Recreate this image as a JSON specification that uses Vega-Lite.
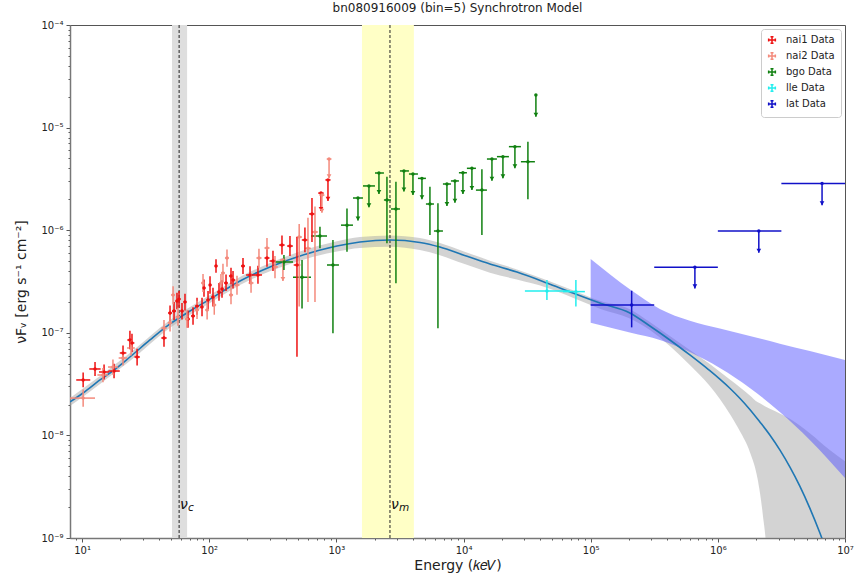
{
  "$schema": "https://vega.github.io/schema/vega-lite/v6.json",
  "width": 775,
  "height": 513,
  "autosize": {"type": "none"},
  "padding": {"left": 70, "top": 25, "right": 9, "bottom": 38},
  "background": "white",
  "title": {"text": "bn080916009 (bin=5) Synchrotron Model", "fontSize": 12, "font": "DejaVu Sans", "fontWeight": "normal", "offset": 5, "color": "#222"},
  "config": {"view": {"stroke": "#555", "strokeWidth": 1}, "font": "DejaVu Sans"},
  "datasets": {
    "spans": [
      {"which": "c", "e1": 51, "e2": 67},
      {"which": "m", "e1": 1590, "e2": 4070}
    ],
    "lines": [{"e": 58}, {"e": 2640}],
    "labels": [
      {"sym": "ν", "sub": "c", "e": 58, "f": 2.1e-9},
      {"sym": "ν", "sub": "m", "e": 2640, "f": 2.1e-9}
    ],
    "model": [
      {"e": 8.05, "f": 2.12e-8}, {"e": 10.18, "f": 2.59e-8}, {"e": 13.85, "f": 3.47e-8}, {"e": 17.85, "f": 4.34e-8},
      {"e": 23.8, "f": 5.81e-8}, {"e": 34.2, "f": 8.51e-8}, {"e": 49.2, "f": 1.22e-7}, {"e": 70.6, "f": 1.63e-7},
      {"e": 101.5, "f": 2.13e-7}, {"e": 174.6, "f": 3.2e-7}, {"e": 300.6, "f": 4.38e-7}, {"e": 517.4, "f": 5.6e-7},
      {"e": 1011, "f": 7.01e-7}, {"e": 1533, "f": 7.67e-7}, {"e": 2639, "f": 8.03e-7}, {"e": 4542, "f": 7.6e-7},
      {"e": 6525, "f": 6.85e-7}, {"e": 10070, "f": 5.7e-7}, {"e": 16130, "f": 4.68e-7}, {"e": 26290, "f": 3.91e-7},
      {"e": 45270, "f": 3.06e-7}, {"e": 72460, "f": 2.44e-7}, {"e": 118100, "f": 1.95e-7}, {"e": 203300, "f": 1.56e-7},
      {"e": 292100, "f": 1.165e-7}, {"e": 419500, "f": 8.51e-8}, {"e": 602500, "f": 6.08e-8}, {"e": 722000, "f": 5.11e-8},
      {"e": 865200, "f": 4.27e-8}, {"e": 1037000, "f": 3.53e-8}, {"e": 1243000, "f": 2.88e-8}, {"e": 1489000, "f": 2.3e-8},
      {"e": 1785000, "f": 1.79e-8}, {"e": 2139000, "f": 1.354e-8}, {"e": 2564000, "f": 1.009e-8}, {"e": 3072000, "f": 7.22e-9},
      {"e": 3681000, "f": 4.93e-9}, {"e": 4413000, "f": 3.2e-9}, {"e": 5288000, "f": 1.956e-9}, {"e": 6338000, "f": 1.126e-9},
      {"e": 7596000, "f": 6.09e-10}
    ],
    "band": [
      {"e": 8.05, "lo": 1.93e-8, "hi": 2.32e-8}, {"e": 13.85, "lo": 3.17e-8, "hi": 3.8e-8}, {"e": 23.8, "lo": 5.3e-8, "hi": 6.35e-8},
      {"e": 49.2, "lo": 1.12e-7, "hi": 1.33e-7}, {"e": 101.5, "lo": 1.95e-7, "hi": 2.33e-7}, {"e": 174.6, "lo": 2.92e-7, "hi": 3.5e-7},
      {"e": 300.6, "lo": 3.98e-7, "hi": 4.8e-7}, {"e": 517, "lo": 5.05e-7, "hi": 6.2e-7}, {"e": 1011, "lo": 6.2e-7, "hi": 7.8e-7},
      {"e": 1533, "lo": 6.7e-7, "hi": 8.6e-7}, {"e": 2639, "lo": 6.9e-7, "hi": 8.9e-7}, {"e": 4542, "lo": 6.4e-7, "hi": 8.4e-7},
      {"e": 6525, "lo": 5.7e-7, "hi": 7.5e-7}, {"e": 10070, "lo": 4.7e-7, "hi": 6.2e-7}, {"e": 16130, "lo": 3.85e-7, "hi": 5.05e-7},
      {"e": 26290, "lo": 3.3e-7, "hi": 4.15e-7}, {"e": 45270, "lo": 2.75e-7, "hi": 3.25e-7}, {"e": 72460, "lo": 2.2e-7, "hi": 2.6e-7},
      {"e": 118100, "lo": 1.72e-7, "hi": 2.05e-7}, {"e": 203300, "lo": 1.38e-7, "hi": 1.7e-7}, {"e": 292100, "lo": 1.065e-7, "hi": 1.274e-7},
      {"e": 419500, "lo": 7.43e-8, "hi": 9.31e-8}, {"e": 602500, "lo": 4.86e-8, "hi": 6.8e-8}, {"e": 865200, "lo": 3.03e-8, "hi": 4.97e-8},
      {"e": 1243000, "lo": 1.617e-8, "hi": 3.5e-8}, {"e": 1489000, "lo": 1.104e-8, "hi": 2.95e-8}, {"e": 1785000, "lo": 6.89e-9, "hi": 2.45e-8},
      {"e": 2063000, "lo": 3.67e-9, "hi": 2.1e-8}, {"e": 2259000, "lo": 1.676e-9, "hi": 1.98e-8}, {"e": 2428000, "lo": 6.1e-10, "hi": 1.88e-8},
      {"e": 2564000, "lo": 1e-11, "hi": 1.82e-8}, {"e": 3681000, "lo": 1e-11, "hi": 1.45e-8}, {"e": 5288000, "lo": 1e-11, "hi": 1.05e-8},
      {"e": 7596000, "lo": 1e-11, "hi": 7.2e-9}, {"e": 10000000, "lo": 1e-11, "hi": 5.6e-9}
    ],
    "latband": [
      {"e": 100000, "lo": 1.25e-7, "hi": 5.24e-7}, {"e": 207000, "lo": 1.0e-7, "hi": 2.61e-7}, {"e": 350000, "lo": 8.51e-8, "hi": 1.71e-7},
      {"e": 602500, "lo": 6.5e-8, "hi": 1.31e-7}, {"e": 1037000, "lo": 4.54e-8, "hi": 1.1e-7}, {"e": 1785000, "lo": 2.9e-8, "hi": 9.31e-8},
      {"e": 3072000, "lo": 1.69e-8, "hi": 7.84e-8}, {"e": 5290000, "lo": 9.02e-9, "hi": 6.63e-8}, {"e": 10000000, "lo": 3.84e-9, "hi": 5.43e-8}
    ],
    "pts": [
      {"det": "nai1 Data", "e": 10.2, "elo": 9.0, "ehi": 11.6, "f": 3.47e-8, "flo": 2.95e-8, "fhi": 4.1e-8, "ul": false},
      {"det": "nai1 Data", "e": 12.65, "elo": 11.4, "ehi": 14.0, "f": 4.44e-8, "flo": 3.8e-8, "fhi": 5.2e-8, "ul": false},
      {"det": "nai1 Data", "e": 14.9, "elo": 13.6, "ehi": 16.3, "f": 4.15e-8, "flo": 3.5e-8, "fhi": 4.9e-8, "ul": false},
      {"det": "nai1 Data", "e": 17.85, "elo": 16.1, "ehi": 19.8, "f": 4.24e-8, "flo": 3.6e-8, "fhi": 5.0e-8, "ul": false},
      {"det": "nai1 Data", "e": 21.0, "elo": 19.8, "ehi": 22.3, "f": 6.36e-8, "flo": 5.4e-8, "fhi": 7.5e-8, "ul": false},
      {"det": "nai1 Data", "e": 23.8, "elo": 22.7, "ehi": 24.5, "f": 8.51e-8, "flo": 6.9e-8, "fhi": 1.05e-7, "ul": false},
      {"det": "nai1 Data", "e": 24.7, "elo": 24.0, "ehi": 25.8, "f": 7.96e-8, "flo": 6.5e-8, "fhi": 9.8e-8, "ul": false},
      {"det": "nai1 Data", "e": 27.1, "elo": 25.8, "ehi": 28.5, "f": 5.81e-8, "flo": 4.8e-8, "fhi": 7.0e-8, "ul": false},
      {"det": "nai1 Data", "e": 44.1, "elo": 42.0, "ehi": 46.3, "f": 8.9e-8, "flo": 7.3e-8, "fhi": 1.08e-7, "ul": false},
      {"det": "nai1 Data", "e": 49.2, "elo": 47.5, "ehi": 51.0, "f": 1.56e-7, "flo": 1.3e-7, "fhi": 1.85e-7, "ul": false},
      {"det": "nai1 Data", "e": 52.9, "elo": 51.0, "ehi": 54.8, "f": 1.63e-7, "flo": 1.33e-7, "fhi": 2.0e-7, "ul": false},
      {"det": "nai1 Data", "e": 55.8, "elo": 54.4, "ehi": 57.2, "f": 2.04e-7, "flo": 1.7e-7, "fhi": 2.45e-7, "ul": false},
      {"det": "nai1 Data", "e": 57.9, "elo": 56.4, "ehi": 59.4, "f": 2.13e-7, "flo": 1.75e-7, "fhi": 2.55e-7, "ul": false},
      {"det": "nai1 Data", "e": 61.1, "elo": 59.4, "ehi": 62.8, "f": 1.63e-7, "flo": 1.35e-7, "fhi": 1.95e-7, "ul": false},
      {"det": "nai1 Data", "e": 64.5, "elo": 62.8, "ehi": 66.3, "f": 2.0e-7, "flo": 1.65e-7, "fhi": 2.4e-7, "ul": false},
      {"det": "nai1 Data", "e": 68.1, "elo": 66.3, "ehi": 70.5, "f": 1.36e-7, "flo": 1.12e-7, "fhi": 1.65e-7, "ul": false},
      {"det": "nai1 Data", "e": 74.6, "elo": 72.0, "ehi": 77.3, "f": 1.46e-7, "flo": 1.2e-7, "fhi": 1.77e-7, "ul": false},
      {"det": "nai1 Data", "e": 80.2, "elo": 77.3, "ehi": 83.0, "f": 1.82e-7, "flo": 1.5e-7, "fhi": 2.2e-7, "ul": false},
      {"det": "nai1 Data", "e": 87.8, "elo": 85.0, "ehi": 89.5, "f": 1.78e-7, "flo": 1.45e-7, "fhi": 2.2e-7, "ul": false},
      {"det": "nai1 Data", "e": 91.0, "elo": 89.5, "ehi": 93.5, "f": 2.73e-7, "flo": 2.25e-7, "fhi": 3.3e-7, "ul": false},
      {"det": "nai1 Data", "e": 97.9, "elo": 95.0, "ehi": 100, "f": 2.09e-7, "flo": 1.7e-7, "fhi": 2.55e-7, "ul": false},
      {"det": "nai1 Data", "e": 101.5, "elo": 100, "ehi": 104, "f": 2.92e-7, "flo": 2.4e-7, "fhi": 3.55e-7, "ul": false},
      {"det": "nai1 Data", "e": 107.1, "elo": 104, "ehi": 110, "f": 2.23e-7, "flo": 1.8e-7, "fhi": 2.75e-7, "ul": false},
      {"det": "nai1 Data", "e": 113.1, "elo": 110.5, "ehi": 116, "f": 4.48e-7, "flo": 3.85e-7, "fhi": 5.2e-7, "ul": false},
      {"det": "nai1 Data", "e": 119.4, "elo": 116, "ehi": 123, "f": 2.5e-7, "flo": 2.05e-7, "fhi": 3.05e-7, "ul": false},
      {"det": "nai1 Data", "e": 126.1, "elo": 123, "ehi": 130, "f": 2.67e-7, "flo": 2.2e-7, "fhi": 3.25e-7, "ul": false},
      {"det": "nai1 Data", "e": 135.6, "elo": 131, "ehi": 140, "f": 3.06e-7, "flo": 2.55e-7, "fhi": 3.7e-7, "ul": false},
      {"det": "nai1 Data", "e": 148.4, "elo": 143, "ehi": 151, "f": 3.58e-7, "flo": 2.95e-7, "fhi": 4.3e-7, "ul": false},
      {"det": "nai1 Data", "e": 153.9, "elo": 151, "ehi": 160, "f": 3.27e-7, "flo": 2.7e-7, "fhi": 4.0e-7, "ul": false},
      {"det": "nai1 Data", "e": 184.4, "elo": 178, "ehi": 191, "f": 4.48e-7, "flo": 3.75e-7, "fhi": 5.35e-7, "ul": false},
      {"det": "nai1 Data", "e": 209.4, "elo": 195, "ehi": 225, "f": 3.66e-7, "flo": 3.0e-7, "fhi": 4.45e-7, "ul": false},
      {"det": "nai1 Data", "e": 241.8, "elo": 225, "ehi": 260, "f": 3.66e-7, "flo": 3.0e-7, "fhi": 4.5e-7, "ul": false},
      {"det": "nai1 Data", "e": 284.7, "elo": 272, "ehi": 298, "f": 5.36e-7, "flo": 4.4e-7, "fhi": 6.5e-7, "ul": false},
      {"det": "nai1 Data", "e": 317.4, "elo": 298, "ehi": 335, "f": 5.01e-7, "flo": 4.0e-7, "fhi": 6.3e-7, "ul": false},
      {"det": "nai1 Data", "e": 373.5, "elo": 355, "ehi": 392, "f": 7.17e-7, "flo": 5.8e-7, "fhi": 8.9e-7, "ul": false},
      {"det": "nai1 Data", "e": 431.7, "elo": 410, "ehi": 455, "f": 7.01e-7, "flo": 5.6e-7, "fhi": 8.8e-7, "ul": false},
      {"det": "nai1 Data", "e": 490, "elo": 462, "ehi": 520, "f": 4.58e-7, "flo": 5.85e-8, "fhi": 8.58e-7, "ul": false},
      {"det": "nai1 Data", "e": 566, "elo": 535, "ehi": 600, "f": 8.03e-7, "flo": 6.1e-7, "fhi": 1.06e-6, "ul": false},
      {"det": "nai1 Data", "e": 643, "elo": 610, "ehi": 680, "f": 1.44e-6, "flo": 7.67e-7, "fhi": 2.06e-6, "ul": false},
      {"det": "nai1 Data", "e": 757, "elo": 720, "ehi": 795, "f": 2.3e-6, "flo": 1.54e-6, "fhi": 2.3e-6, "ul": true},
      {"det": "nai1 Data", "e": 859, "elo": 820, "ehi": 900, "f": 3.09e-6, "flo": 1.93e-6, "fhi": 3.09e-6, "ul": true},
      {"det": "nai2 Data", "e": 10.2, "elo": 8.05, "ehi": 12.65, "f": 2.31e-8, "flo": 1.9e-8, "fhi": 2.8e-8, "ul": false},
      {"det": "nai2 Data", "e": 14.6, "elo": 13.2, "ehi": 16.0, "f": 3.88e-8, "flo": 3.3e-8, "fhi": 4.55e-8, "ul": false},
      {"det": "nai2 Data", "e": 17.5, "elo": 16.0, "ehi": 19.2, "f": 4.64e-8, "flo": 3.9e-8, "fhi": 5.5e-8, "ul": false},
      {"det": "nai2 Data", "e": 21.0, "elo": 19.4, "ehi": 22.6, "f": 5.68e-8, "flo": 4.8e-8, "fhi": 6.7e-8, "ul": false},
      {"det": "nai2 Data", "e": 24.3, "elo": 22.6, "ehi": 26.0, "f": 7.11e-8, "flo": 6.0e-8, "fhi": 8.5e-8, "ul": false},
      {"det": "nai2 Data", "e": 44.1, "elo": 42, "ehi": 46.3, "f": 1.11e-7, "flo": 9.2e-8, "fhi": 1.33e-7, "ul": false},
      {"det": "nai2 Data", "e": 49.2, "elo": 47.2, "ehi": 51.2, "f": 1.25e-7, "flo": 1.03e-7, "fhi": 1.5e-7, "ul": false},
      {"det": "nai2 Data", "e": 52.0, "elo": 50.2, "ehi": 53.8, "f": 2.34e-7, "flo": 1.9e-7, "fhi": 2.85e-7, "ul": false},
      {"det": "nai2 Data", "e": 56.8, "elo": 54.8, "ehi": 58.8, "f": 1.43e-7, "flo": 1.17e-7, "fhi": 1.75e-7, "ul": false},
      {"det": "nai2 Data", "e": 66.8, "elo": 64.5, "ehi": 69.2, "f": 1.36e-7, "flo": 1.12e-7, "fhi": 1.65e-7, "ul": false},
      {"det": "nai2 Data", "e": 80.2, "elo": 77.3, "ehi": 83.2, "f": 1.67e-7, "flo": 1.36e-7, "fhi": 2.05e-7, "ul": false},
      {"det": "nai2 Data", "e": 89.4, "elo": 86.5, "ehi": 92.5, "f": 3.06e-7, "flo": 2.5e-7, "fhi": 3.75e-7, "ul": false},
      {"det": "nai2 Data", "e": 96.3, "elo": 93, "ehi": 99.6, "f": 1.67e-7, "flo": 1.35e-7, "fhi": 2.05e-7, "ul": false},
      {"det": "nai2 Data", "e": 109.6, "elo": 106, "ehi": 113.5, "f": 1.87e-7, "flo": 1.5e-7, "fhi": 2.3e-7, "ul": false},
      {"det": "nai2 Data", "e": 123.7, "elo": 119.5, "ehi": 128, "f": 3.06e-7, "flo": 2.5e-7, "fhi": 3.75e-7, "ul": false},
      {"det": "nai2 Data", "e": 128.3, "elo": 124, "ehi": 133, "f": 3.83e-7, "flo": 3.1e-7, "fhi": 4.7e-7, "ul": false},
      {"det": "nai2 Data", "e": 138, "elo": 133, "ehi": 143, "f": 5.36e-7, "flo": 4.4e-7, "fhi": 6.5e-7, "ul": false},
      {"det": "nai2 Data", "e": 148.4, "elo": 143, "ehi": 154, "f": 2.34e-7, "flo": 1.9e-7, "fhi": 2.9e-7, "ul": false},
      {"det": "nai2 Data", "e": 165.4, "elo": 158, "ehi": 173, "f": 2.92e-7, "flo": 2.35e-7, "fhi": 3.6e-7, "ul": false},
      {"det": "nai2 Data", "e": 213.3, "elo": 204, "ehi": 223, "f": 3.06e-7, "flo": 2.45e-7, "fhi": 3.8e-7, "ul": false},
      {"det": "nai2 Data", "e": 246.2, "elo": 235, "ehi": 258, "f": 5.36e-7, "flo": 4.3e-7, "fhi": 6.6e-7, "ul": false},
      {"det": "nai2 Data", "e": 284.7, "elo": 272, "ehi": 298, "f": 6.71e-7, "flo": 5.3e-7, "fhi": 8.4e-7, "ul": false},
      {"det": "nai2 Data", "e": 329.1, "elo": 312, "ehi": 347, "f": 4.38e-7, "flo": 3.4e-7, "fhi": 5.6e-7, "ul": false},
      {"det": "nai2 Data", "e": 380, "elo": 360, "ehi": 400, "f": 5.12e-7, "flo": 3.2e-7, "fhi": 5.12e-7, "ul": true},
      {"det": "nai2 Data", "e": 510, "elo": 485, "ehi": 536, "f": 8.58e-7, "flo": 1.8e-7, "fhi": 1.15e-6, "ul": false},
      {"det": "nai2 Data", "e": 598, "elo": 568, "ehi": 630, "f": 6.66e-7, "flo": 2.0e-7, "fhi": 1.32e-6, "ul": false},
      {"det": "nai2 Data", "e": 679, "elo": 645, "ehi": 715, "f": 9.61e-7, "flo": 2.0e-7, "fhi": 1.7e-6, "ul": false},
      {"det": "nai2 Data", "e": 770, "elo": 735, "ehi": 805, "f": 2.2e-6, "flo": 1.48e-6, "fhi": 2.2e-6, "ul": true},
      {"det": "nai2 Data", "e": 876, "elo": 840, "ehi": 915, "f": 4.94e-6, "flo": 3.2e-6, "fhi": 4.94e-6, "ul": true},
      {"det": "bgo Data", "e": 387, "elo": 329, "ehi": 456, "f": 4.9e-7, "flo": 4.09e-7, "fhi": 5.73e-7, "ul": false},
      {"det": "bgo Data", "e": 537, "elo": 456, "ehi": 632, "f": 3.48e-7, "flo": 1.73e-7, "fhi": 5.12e-7, "ul": false},
      {"det": "bgo Data", "e": 743, "elo": 632, "ehi": 844, "f": 8.78e-7, "flo": 6.66e-7, "fhi": 1.08e-6, "ul": false},
      {"det": "bgo Data", "e": 940, "elo": 844, "ehi": 1048, "f": 4.58e-7, "flo": 9.89e-8, "fhi": 8.03e-7, "ul": false},
      {"det": "bgo Data", "e": 1212, "elo": 1087, "ehi": 1351, "f": 1.12e-6, "flo": 6.17e-7, "fhi": 1.63e-6, "ul": false},
      {"det": "bgo Data", "e": 1479, "elo": 1351, "ehi": 1619, "f": 2.06e-6, "flo": 1.24e-6, "fhi": 2.06e-6, "ul": true},
      {"det": "bgo Data", "e": 1804, "elo": 1619, "ehi": 2012, "f": 2.7e-6, "flo": 1.67e-6, "fhi": 2.7e-6, "ul": true},
      {"det": "bgo Data", "e": 2162, "elo": 2012, "ehi": 2366, "f": 3.61e-6, "flo": 2.25e-6, "fhi": 3.61e-6, "ul": true},
      {"det": "bgo Data", "e": 2499, "elo": 2366, "ehi": 2687, "f": 1.97e-6, "flo": 7.45e-7, "fhi": 3.32e-6, "ul": false},
      {"det": "bgo Data", "e": 2941, "elo": 2687, "ehi": 3162, "f": 1.61e-6, "flo": 3.04e-7, "fhi": 2.97e-6, "ul": false},
      {"det": "bgo Data", "e": 3399, "elo": 3162, "ehi": 3722, "f": 3.78e-6, "flo": 2.38e-6, "fhi": 3.78e-6, "ul": true},
      {"det": "bgo Data", "e": 4002, "elo": 3722, "ehi": 4380, "f": 3.53e-6, "flo": 2.2e-6, "fhi": 3.53e-6, "ul": true},
      {"det": "bgo Data", "e": 4710, "elo": 4380, "ehi": 5062, "f": 3.2e-6, "flo": 2.0e-6, "fhi": 3.2e-6, "ul": true},
      {"det": "bgo Data", "e": 5443, "elo": 5062, "ehi": 5853, "f": 1.8e-6, "flo": 8.98e-7, "fhi": 2.65e-6, "ul": false},
      {"det": "bgo Data", "e": 6292, "elo": 5853, "ehi": 6887, "f": 9.82e-7, "flo": 1.11e-7, "fhi": 1.83e-6, "ul": false},
      {"det": "bgo Data", "e": 7405, "elo": 6887, "ehi": 7962, "f": 2.82e-6, "flo": 1.72e-6, "fhi": 2.82e-6, "ul": true},
      {"det": "bgo Data", "e": 8560, "elo": 7962, "ehi": 9200, "f": 3.02e-6, "flo": 1.85e-6, "fhi": 3.02e-6, "ul": true},
      {"det": "bgo Data", "e": 9892, "elo": 9200, "ehi": 10630, "f": 3.63e-6, "flo": 2.25e-6, "fhi": 3.63e-6, "ul": true},
      {"det": "bgo Data", "e": 11640, "elo": 10630, "ehi": 12520, "f": 4.01e-6, "flo": 2.46e-6, "fhi": 4.01e-6, "ul": true},
      {"det": "bgo Data", "e": 13950, "elo": 12520, "ehi": 15280, "f": 2.46e-6, "flo": 8.98e-7, "fhi": 3.92e-6, "ul": false},
      {"det": "bgo Data", "e": 16730, "elo": 15280, "ehi": 18310, "f": 4.94e-6, "flo": 3.04e-6, "fhi": 4.94e-6, "ul": true},
      {"det": "bgo Data", "e": 20410, "elo": 18310, "ehi": 22750, "f": 5.21e-6, "flo": 3.2e-6, "fhi": 5.21e-6, "ul": true},
      {"det": "bgo Data", "e": 25360, "elo": 22750, "ehi": 28270, "f": 6.52e-6, "flo": 4.01e-6, "fhi": 6.52e-6, "ul": true},
      {"det": "bgo Data", "e": 32090, "elo": 28270, "ehi": 36420, "f": 4.65e-6, "flo": 2.0e-6, "fhi": 7.29e-6, "ul": false},
      {"det": "bgo Data", "e": 37090, "elo": 36420, "ehi": 37800, "f": 2.078e-5, "flo": 1.277e-5, "fhi": 2.078e-5, "ul": true},
      {"det": "lle Data", "e": 45270, "elo": 30390, "ehi": 68630, "f": 2.55e-7, "flo": 2.09e-7, "fhi": 3.27e-7, "ul": false},
      {"det": "lle Data", "e": 76500, "elo": 60440, "ehi": 90030, "f": 2.52e-7, "flo": 1.8e-7, "fhi": 3.27e-7, "ul": false},
      {"det": "lat Data", "e": 210000, "elo": 100000, "ehi": 316000, "f": 1.87e-7, "flo": 1.13e-7, "fhi": 2.57e-7, "ul": false},
      {"det": "lat Data", "e": 660000, "elo": 316000, "ehi": 1000000, "f": 4.35e-7, "flo": 2.71e-7, "fhi": 4.35e-7, "ul": true},
      {"det": "lat Data", "e": 2100000, "elo": 1000000, "ehi": 3160000, "f": 9.82e-7, "flo": 6.04e-7, "fhi": 9.82e-7, "ul": true},
      {"det": "lat Data", "e": 6600000, "elo": 3160000, "ehi": 10000000, "f": 2.86e-6, "flo": 1.75e-6, "fhi": 2.86e-6, "ul": true}
    ]
  },
  "layer": [
    {
      "data": {"name": "spans"},
      "transform": [{"filter": "datum.which == 'c'"}],
      "mark": {"type": "rect", "color": "#dedede", "opacity": 1},
      "encoding": {
        "x": {"field": "e1", "type": "quantitative", "scale": {"type": "log", "domain": [8.04, 10000000], "nice": false},
          "axis": {
            "values": [9,10,20,30,40,50,60,70,80,90,100,200,300,400,500,600,700,800,900,1000,2000,3000,4000,5000,6000,7000,8000,9000,10000,20000,30000,40000,50000,60000,70000,80000,90000,100000,200000,300000,400000,500000,600000,700000,800000,900000,1000000,2000000,3000000,4000000,5000000,6000000,7000000,8000000,9000000,10000000],
            "labelExpr": "abs(log(datum.value)/LN10 - round(log(datum.value)/LN10)) < 0.001 ? '10' + substring('⁰¹²³⁴⁵⁶⁷⁸⁹', round(log(datum.value)/LN10), round(log(datum.value)/LN10) + 1) : ''",
            "tickSize": {"condition": {"test": "abs(log(datum.value)/LN10 - round(log(datum.value)/LN10)) < 0.001", "value": 4}, "value": 2},
            "labelOverlap": false, "labelBound": false, "labelFlush": false,
            "labelFontSize": 10, "labelColor": "#222", "labelPadding": 3,
            "grid": false, "domainColor": "#777", "domainWidth": 1.5, "tickColor": "#555",
            "title": "Energy (𝑘𝑒𝑉)", "titleFontSize": 14, "titleFontWeight": "normal", "titleColor": "#222", "titlePadding": 3
          }
        },
        "x2": {"field": "e2"}
      }
    },
    {
      "data": {"name": "spans"},
      "transform": [{"filter": "datum.which == 'm'"}],
      "mark": {"type": "rect", "color": "#ffffc6", "opacity": 1},
      "encoding": {
        "x": {"field": "e1", "type": "quantitative", "scale": {"type": "log", "domain": [8.04, 10000000], "nice": false}},
        "x2": {"field": "e2"}
      }
    },
    {
      "data": {"name": "band"},
      "mark": {"type": "area", "color": "#a8a8a8", "opacity": 0.5, "clip": true, "interpolate": "monotone"},
      "encoding": {
        "x": {"field": "e", "type": "quantitative", "scale": {"type": "log", "domain": [8.04, 10000000], "nice": false}},
        "y": {"field": "lo", "type": "quantitative", "scale": {"type": "log", "domain": [1e-9, 1e-4], "nice": false},
          "axis": {
            "values": [1e-9,2e-9,3e-9,4e-9,5e-9,6e-9,7e-9,8e-9,9e-9,1e-8,2e-8,3e-8,4e-8,5e-8,6e-8,7e-8,8e-8,9e-8,1e-7,2e-7,3e-7,4e-7,5e-7,6e-7,7e-7,8e-7,9e-7,1e-6,2e-6,3e-6,4e-6,5e-6,6e-6,7e-6,8e-6,9e-6,1e-5,2e-5,3e-5,4e-5,5e-5,6e-5,7e-5,8e-5,9e-5,1e-4],
            "labelExpr": "abs(log(datum.value)/LN10 - round(log(datum.value)/LN10)) < 0.001 ? '10⁻' + substring('⁰¹²³⁴⁵⁶⁷⁸⁹', -round(log(datum.value)/LN10), -round(log(datum.value)/LN10) + 1) : ''",
            "tickSize": {"condition": {"test": "abs(log(datum.value)/LN10 - round(log(datum.value)/LN10)) < 0.001", "value": 4}, "value": 2},
            "labelOverlap": false, "labelBound": false, "labelFlush": false,
            "labelFontSize": 10, "labelColor": "#222", "labelPadding": 3,
            "grid": false, "domainColor": "#777", "domainWidth": 1.5, "tickColor": "#555",
            "title": "νFᵥ [erg s⁻¹ cm⁻²]", "titleFontSize": 14, "titleFontWeight": "normal", "titleColor": "#222", "titlePadding": 12
          }
        },
        "y2": {"field": "hi"}
      }
    },
    {
      "data": {"name": "latband"},
      "mark": {"type": "area", "color": "#5555ff", "opacity": 0.5, "clip": true, "interpolate": "monotone"},
      "encoding": {
        "x": {"field": "e", "type": "quantitative", "scale": {"type": "log", "domain": [8.04, 10000000], "nice": false}},
        "y": {"field": "lo", "type": "quantitative", "scale": {"type": "log", "domain": [1e-9, 1e-4], "nice": false}},
        "y2": {"field": "hi"}
      }
    },
    {
      "data": {"name": "lines"},
      "mark": {"type": "rule", "color": "#222", "strokeWidth": 1, "strokeDash": [3, 2]},
      "encoding": {
        "x": {"field": "e", "type": "quantitative", "scale": {"type": "log", "domain": [8.04, 10000000], "nice": false}}
      }
    },
    {
      "data": {"name": "model"},
      "mark": {"type": "line", "color": "#1f77b4", "strokeWidth": 1.6, "clip": true, "interpolate": "monotone"},
      "encoding": {
        "x": {"field": "e", "type": "quantitative", "scale": {"type": "log", "domain": [8.04, 10000000], "nice": false}},
        "y": {"field": "f", "type": "quantitative", "scale": {"type": "log", "domain": [1e-9, 1e-4], "nice": false}}
      }
    },
    {
      "data": {"name": "pts"},
      "mark": {"type": "rule", "strokeWidth": 1.5},
      "encoding": {
        "x": {"field": "elo", "type": "quantitative", "scale": {"type": "log", "domain": [8.04, 10000000], "nice": false}},
        "x2": {"field": "ehi"},
        "y": {"field": "f", "type": "quantitative", "scale": {"type": "log", "domain": [1e-9, 1e-4], "nice": false}},
        "color": {"field": "det", "type": "nominal",
          "scale": {"domain": ["nai1 Data", "nai2 Data", "bgo Data", "lle Data", "lat Data"], "range": ["#ee1111", "#f48a7c", "#108010", "#22eeee", "#1010c8"]},
          "legend": {"title": null, "orient": "top-right", "offset": 4, "labelFontSize": 10, "labelColor": "#222",
            "symbolType": "M-1,0H1M0,-1V1M-0.45,-1H0.45M-0.45,1H0.45M-1,-0.45V0.45M1,-0.45V0.45",
            "symbolSize": 45, "symbolStrokeWidth": 1.5, "rowPadding": 2, "padding": 6, "labelOffset": 9,
            "strokeColor": "#cccccc", "fillColor": "white", "cornerRadius": 3}
        }
      }
    },
    {
      "data": {"name": "pts"},
      "mark": {"type": "rule", "strokeWidth": 1.5},
      "encoding": {
        "x": {"field": "e", "type": "quantitative", "scale": {"type": "log", "domain": [8.04, 10000000], "nice": false}},
        "y": {"field": "flo", "type": "quantitative", "scale": {"type": "log", "domain": [1e-9, 1e-4], "nice": false}},
        "y2": {"field": "fhi"},
        "color": {"field": "det", "type": "nominal", "legend": null}
      }
    },
    {
      "data": {"name": "pts"},
      "mark": {"type": "point", "filled": true, "size": 12, "opacity": 1},
      "encoding": {
        "x": {"field": "e", "type": "quantitative", "scale": {"type": "log", "domain": [8.04, 10000000], "nice": false}},
        "y": {"field": "f", "type": "quantitative", "scale": {"type": "log", "domain": [1e-9, 1e-4], "nice": false}},
        "color": {"field": "det", "type": "nominal", "legend": null}
      }
    },
    {
      "data": {"name": "pts"},
      "transform": [{"filter": "datum.ul"}],
      "mark": {"type": "point", "shape": "triangle-down", "filled": true, "size": 22, "opacity": 1, "yOffset": -2},
      "encoding": {
        "x": {"field": "e", "type": "quantitative", "scale": {"type": "log", "domain": [8.04, 10000000], "nice": false}},
        "y": {"field": "flo", "type": "quantitative", "scale": {"type": "log", "domain": [1e-9, 1e-4], "nice": false}},
        "color": {"field": "det", "type": "nominal", "legend": null}
      }
    },
    {
      "data": {"name": "labels"},
      "mark": {"type": "text", "align": "left", "baseline": "middle", "dx": 1, "fontSize": 14, "fontStyle": "italic", "color": "#111"},
      "encoding": {
        "x": {"field": "e", "type": "quantitative", "scale": {"type": "log", "domain": [8.04, 10000000], "nice": false}},
        "y": {"field": "f", "type": "quantitative", "scale": {"type": "log", "domain": [1e-9, 1e-4], "nice": false}},
        "text": {"field": "sym"}
      }
    },
    {
      "data": {"name": "labels"},
      "mark": {"type": "text", "align": "left", "baseline": "middle", "dx": 9, "dy": 3, "fontSize": 10.5, "fontStyle": "italic", "color": "#111"},
      "encoding": {
        "x": {"field": "e", "type": "quantitative", "scale": {"type": "log", "domain": [8.04, 10000000], "nice": false}},
        "y": {"field": "f", "type": "quantitative", "scale": {"type": "log", "domain": [1e-9, 1e-4], "nice": false}},
        "text": {"field": "sub"}
      }
    }
  ]
}
